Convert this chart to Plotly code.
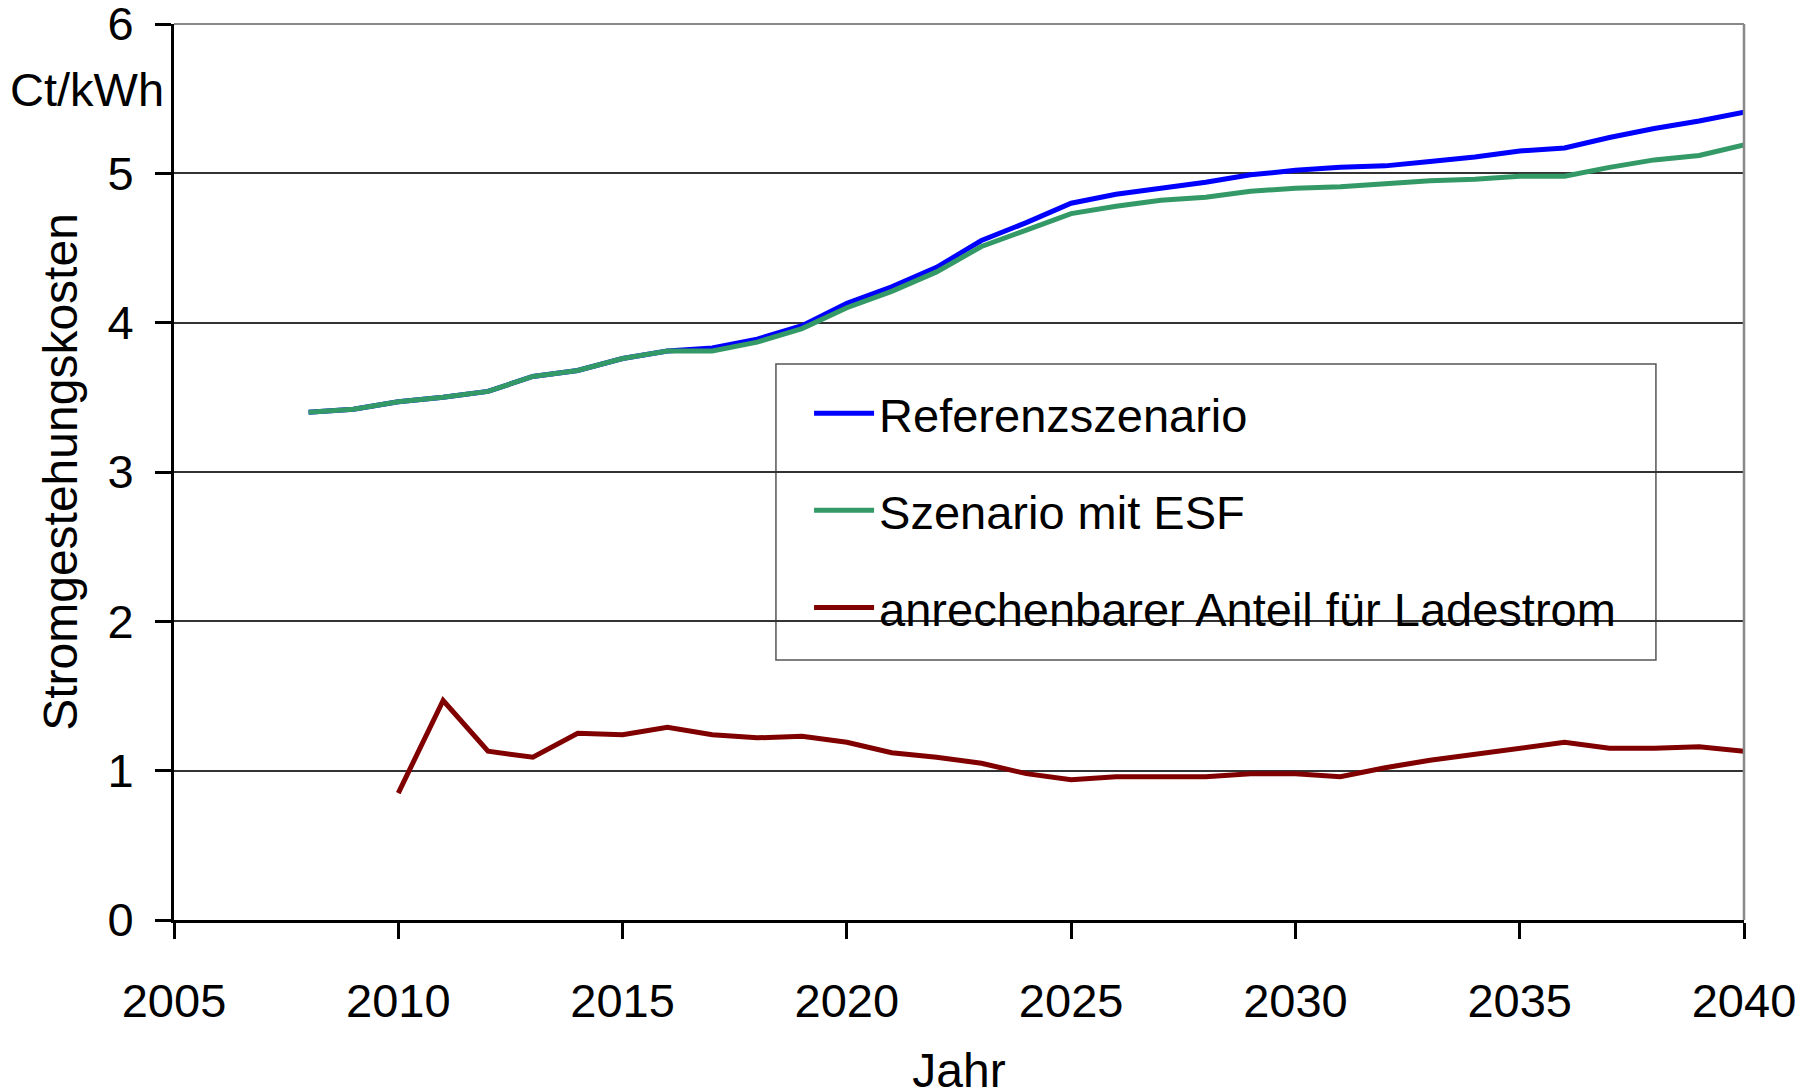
import plotly.graph_objs as go

# Data
years_ref = list(range(2008, 2041))
referenz = [3.40, 3.42, 3.47, 3.50, 3.54, 3.64, 3.68, 3.76, 3.81, 3.83,
            3.89, 3.98, 4.13, 4.24, 4.37, 4.55, 4.67, 4.80, 4.86, 4.90,
            4.94, 4.99, 5.02, 5.04, 5.05, 5.08, 5.11, 5.15, 5.17, 5.24,
            5.30, 5.35, 5.41]
esf = [3.40, 3.42, 3.47, 3.50, 3.54, 3.64, 3.68, 3.76, 3.81, 3.81,
       3.87, 3.96, 4.10, 4.21, 4.34, 4.51, 4.62, 4.73, 4.78, 4.82,
       4.84, 4.88, 4.90, 4.91, 4.93, 4.95, 4.96, 4.98, 4.98, 5.04,
       5.09, 5.12, 5.19]

years_lade = list(range(2010, 2041))
ladestrom = [0.85, 1.47, 1.13, 1.09, 1.25, 1.24, 1.29, 1.24, 1.22, 1.23,
             1.19, 1.12, 1.09, 1.05, 0.98, 0.94, 0.96, 0.96, 0.96, 0.98,
             0.98, 0.96, 1.02, 1.07, 1.11, 1.15, 1.19, 1.15, 1.15, 1.16,
             1.13]

x_ticks = [2005, 2010, 2015, 2020, 2025, 2030, 2035, 2040]
y_ticks = [0, 1, 2, 3, 4, 5, 6]

FONT = 'Liberation Sans, Arial, Helvetica, sans-serif'
FS = 47

traces = [
    go.Scatter(x=years_ref, y=referenz, mode='lines', name='Referenzszenario',
               legendgroup='a', line=dict(color='#0000ff', width=5)),
    go.Scatter(x=years_ref, y=esf, mode='lines', name='Szenario mit ESF',
               legendgroup='b', line=dict(color='#339966', width=5)),
    go.Scatter(x=years_lade, y=ladestrom, mode='lines',
               name='anrechenbarer Anteil für Ladestrom',
               legendgroup='c', line=dict(color='#800000', width=5)),
]

layout = go.Layout(
    width=1815, height=1089,
    # the page body adds 8px, so margins are shifted accordingly
    margin=dict(l=166, r=79, t=16, b=177),
    paper_bgcolor='white', plot_bgcolor='white',
    font=dict(family=FONT, size=FS, color='black'),
    xaxis=dict(range=[2005, 2040], tickvals=x_ticks, ticks='outside',
               ticklen=16, tickwidth=3, tickcolor='black',
               showline=True, linecolor='black', linewidth=3,
               showgrid=False, zeroline=False, ticklabelstandoff=22,
               automargin=False,
               title=dict(text='Jahr', standoff=29,
                          font=dict(family=FONT, size=48))),
    yaxis=dict(range=[0, 6], tickvals=y_ticks, ticks='outside',
               ticklen=16, tickwidth=3, tickcolor='black',
               showline=True, linecolor='black', linewidth=3,
               showgrid=True, gridcolor='#333333', gridwidth=1.5,
               zeroline=False, ticklabelstandoff=12,
               ticklabeloverflow='allow', automargin=False,
               title=dict(text='Stromgestehungskosten', standoff=15,
                          font=dict(family=FONT, size=48))),
    showlegend=True,
    legend=dict(x=0.4045, y=0.607, xanchor='left', yanchor='top',
                bgcolor='rgba(0,0,0,0)', borderwidth=0,
                tracegroupgap=33, itemwidth=60,
                font=dict(family=FONT, size=FS, color='black')),
    shapes=[
        # legend box
        dict(type='rect', xref='paper', yref='paper',
             x0=0.3834, x1=0.9439, y0=0.2903, y1=0.6205,
             line=dict(color='#555555', width=1.5), fillcolor='white',
             layer='below'),
        # grey frame top and right
        dict(type='line', xref='paper', yref='paper', x0=0, x1=1, y0=1, y1=1,
             line=dict(color='#888888', width=2)),
        dict(type='line', xref='paper', yref='paper', x0=1, x1=1, y0=0, y1=1,
             line=dict(color='#888888', width=2.5)),
    ],
    annotations=[
        dict(text='Ct/kWh', xref='paper', yref='y', x=-0.005, y=5.56,
             xanchor='right', yanchor='middle', showarrow=False,
             font=dict(family=FONT, size=FS, color='black')),
    ],
)

fig = go.Figure(data=traces, layout=layout)
fig.write_html("out.html")
